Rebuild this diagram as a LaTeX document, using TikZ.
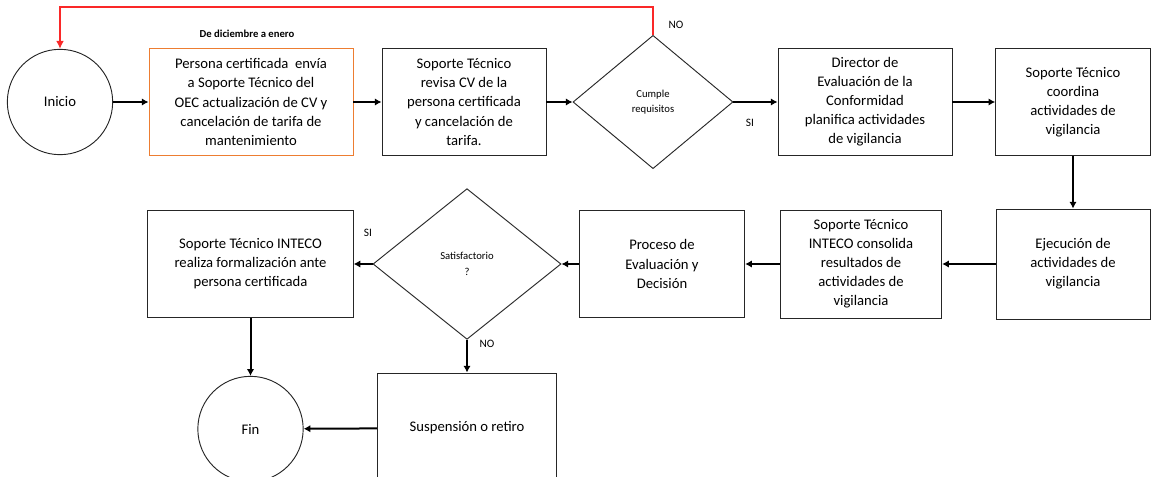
\documentclass[tikz,border=0pt]{standalone}
\usepackage{fontspec}
\setmainfont{Carlito}
\usetikzlibrary{shapes.geometric,arrows.meta}
\definecolor{naranja}{RGB}{237,125,49}
\definecolor{rojo}{RGB}{250,40,40}

\begin{document}
\begin{tikzpicture}
  [x=0.75pt,y=-0.75pt,
   every node/.style={font=\fontsize{11}{14.3}\selectfont,align=center},
   caja/.style={draw=black!85,line width=0.7pt,minimum height=80pt,inner sep=2pt},
   circulo/.style={draw=black!85,circle,line width=0.7pt,minimum size=79pt},
   rombo/.style={draw=black!85,diamond,line width=0.7pt,inner sep=0pt,font=\fontsize{8}{11.5}\selectfont},
   flecha/.style={-{Latex[length=5pt,width=5.5pt]},line width=1.5pt},
   etiq/.style={font=\fontsize{8.5}{10}\selectfont}]

  \useasboundingbox (0,0) rectangle (1151,477);

  % fila de arriba
  \node[circulo] (0) at (60,102) {Inicio};
  \node[caja,draw=naranja,minimum width=153pt] (1) at (251,102) {Persona certificada~ envía\\a Soporte Técnico del\\OEC actualización de CV y\\cancelación de tarifa de\\mantenimiento};
  \node[caja,minimum width=123pt] (2) at (464,102) {Soporte Técnico\\revisa CV de la\\persona certificada\\y cancelación de\\tarifa.};
  \node[rombo,minimum width=120pt,minimum height=100pt] (3) at (653,102) {Cumple\\requisitos};
  \node[caja,minimum width=130.5pt] (4) at (865,102) {Director de\\Evaluación de la\\Conformidad\\planifica actividades\\de vigilancia};
  \node[caja,minimum width=116pt] (5) at (1073,102) {Soporte Técnico\\coordina\\actividades de\\vigilancia};

  % fila de abajo
  \node[caja,minimum width=115.5pt,minimum height=82.5pt] (6) at (1073,264) {Ejecución de\\actividades de\\vigilancia};
  \node[caja,minimum width=121pt,minimum height=81pt] (7) at (861,264) {Soporte Técnico\\INTECO consolida\\resultados de\\actividades de\\vigilancia};
  \node[caja,minimum width=124pt] (8) at (662,264) {Proceso de\\Evaluación y\\Decisión};
  \node[rombo,minimum width=141pt,minimum height=113pt] (9) at (467,264) {Satisfactorio\\?};
  \node[caja,minimum width=154pt] (10) at (250.5,264) {Soporte Técnico INTECO\\realiza formalización ante\\persona certificada};

  % final
  \node[circulo] (11) at (250.5,429) {Fin};
  \node[caja,minimum width=134pt,minimum height=82.5pt] (12) at (467,428) {Suspensión o retiro};

  % textos
  \node[font=\fontsize{8}{10}\selectfont\bfseries] (t1) at (247,34) {De diciembre a enero};
  \node[etiq] (t2) at (676,25) {NO};
  \node[etiq] (t3) at (750,123) {SI};
  \node[etiq] (t4) at (368,233) {SI};
  \node[etiq] (t5) at (487,344) {NO};

  \draw[flecha] (0) -- (1);
  \draw[flecha] (1) -- (2);
  \draw[flecha] (2) -- (3);
  \draw[flecha] (3) -- (4);
  \draw[flecha] (4) -- (5);
  \draw[flecha] (5) -- (6);
  \draw[flecha] (6) -- (7);
  \draw[flecha] (7) -- (8);
  \draw[flecha] (8) -- (9);
  \draw[flecha] (9) -- (10);
  \draw[flecha] (10) -- (11);
  \draw[flecha] (9) -- (12);
  \draw[flecha] (12) -- (11);
  \draw[rojo,line width=1.2pt,-{Latex[length=6pt,width=6pt]}] (3.north) -- ++(0,-28) -| (0.north);

\end{tikzpicture}
\end{document}
